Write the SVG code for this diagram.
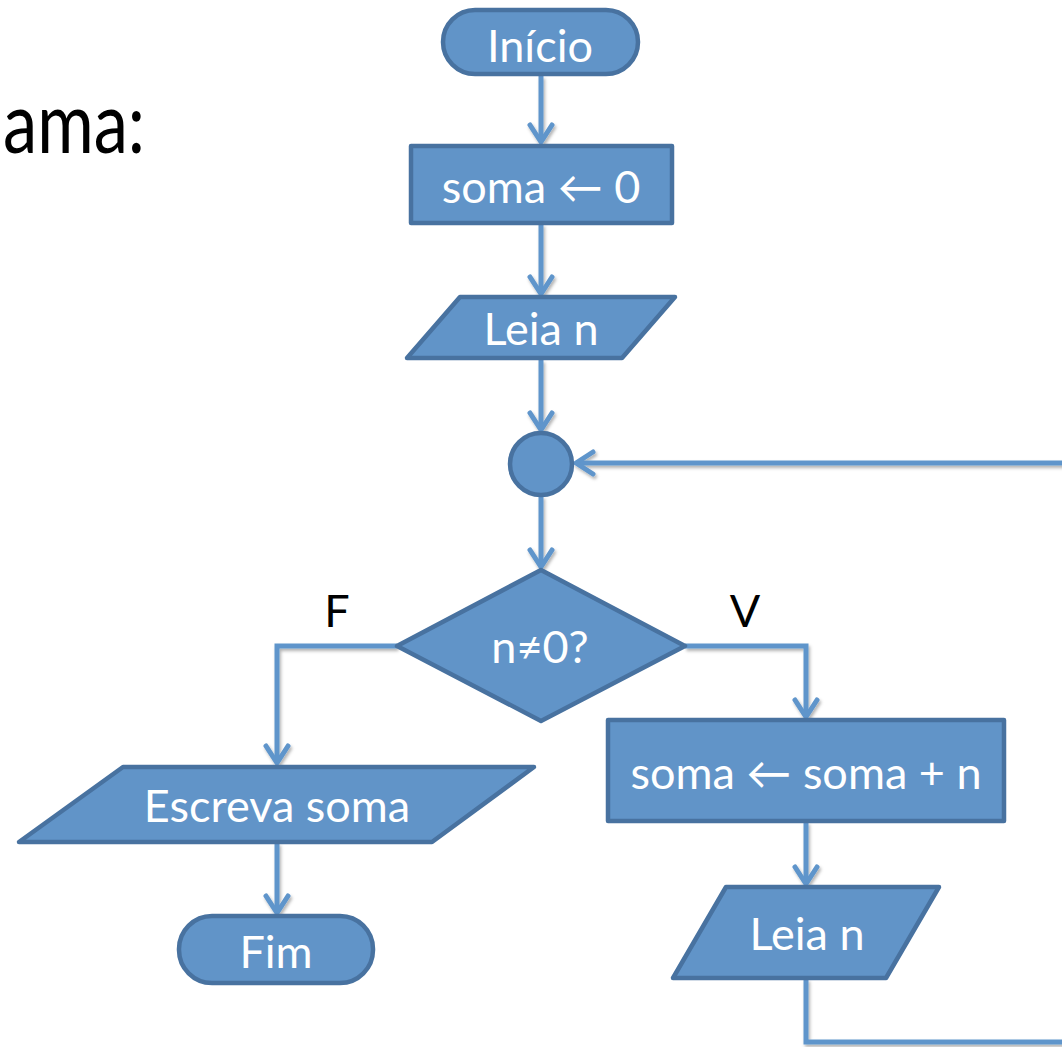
<svg xmlns="http://www.w3.org/2000/svg" width="1062" height="1047" viewBox="0 0 1062 1047">
<style>
.shape{fill:#6194C8;stroke:#4872A0;stroke-width:4.5;stroke-linejoin:round}
.lbl{font-family:Lato,"DejaVu Sans",sans-serif;font-size:45px;fill:#ffffff;text-anchor:middle}
.blk{font-family:Lato,"DejaVu Sans",sans-serif;font-size:45px;fill:#000000;text-anchor:middle}
.conn{fill:none;stroke:#5F95CB;stroke-width:5;stroke-linejoin:miter}
</style>
<defs>
<filter id="sh" x="-10%" y="-10%" width="120%" height="120%">
<feDropShadow dx="1.5" dy="2.5" stdDeviation="1.5" flood-color="#000" flood-opacity="0.3"/>
</filter>
<marker id="ah" markerUnits="userSpaceOnUse" viewBox="-22 -15 26 30" markerWidth="26" markerHeight="30" refX="0" refY="0" orient="auto" overflow="visible">
<path d="M-17,-11 L0,0 L-17,11" fill="none" stroke="#5F95CB" stroke-width="5" stroke-linecap="round" stroke-linejoin="round"/>
</marker>
</defs>
<rect width="1062" height="1047" fill="#ffffff"/>
<text x="3" y="153" font-family="Lato,'DejaVu Sans',sans-serif" font-size="86" fill="#000" textLength="142" lengthAdjust="spacingAndGlyphs">ama:</text>

<g id="connectors" filter="url(#sh)">
<line class="conn" x1="541" y1="76" x2="541" y2="142" marker-end="url(#ah)"/>
<line class="conn" x1="541" y1="224" x2="541" y2="294" marker-end="url(#ah)"/>
<line class="conn" x1="541" y1="360" x2="541" y2="430" marker-end="url(#ah)"/>
<line class="conn" x1="541" y1="496" x2="541" y2="567" marker-end="url(#ah)"/>
<polyline class="conn" points="397,646 277,646 277,763" marker-end="url(#ah)"/>
<polyline class="conn" points="685,646 806,646 806,717" marker-end="url(#ah)"/>
<line class="conn" x1="806" y1="822" x2="806" y2="884" marker-end="url(#ah)"/>
<line class="conn" x1="277" y1="843" x2="277" y2="913" marker-end="url(#ah)"/>
<polyline class="conn" points="806,979 806,1042 1070,1042"/>
<line class="conn" x1="1070" y1="463" x2="576" y2="463" marker-end="url(#ah)"/>
</g>

<g id="inicio">
<rect class="shape" x="443" y="10" width="195" height="64" rx="32"/>
<text class="lbl" x="540" y="62">Início</text>
</g>
<g id="soma0">
<rect class="shape" x="411" y="146" width="261" height="77"/>
<text class="lbl" x="541" y="203">soma ← 0</text>
</g>
<g id="leia1">
<polygon class="shape" points="460,297 675,297 622,358 407,358"/>
<text class="lbl" x="541" y="345">Leia n</text>
</g>
<g id="juncao">
<circle class="shape" cx="541" cy="464" r="31"/>
</g>
<g id="decisao">
<polygon class="shape" points="541,570 685,646 541,721 397,646"/>
<text class="lbl" x="540" y="663">n≠0?</text>
</g>
<g id="labelF"><text class="blk" x="337" y="627">F</text></g>
<g id="labelV"><text class="blk" x="745" y="627">V</text></g>
<g id="somaN">
<rect class="shape" x="608" y="720" width="396" height="101"/>
<text class="lbl" x="806" y="789">soma ← soma + n</text>
</g>
<g id="leia2">
<polygon class="shape" points="726,887 939,887 886,978 673,978"/>
<text class="lbl" x="807" y="950">Leia n</text>
</g>
<g id="escreva">
<polygon class="shape" points="123,767 534,767 432,842 19,842"/>
<text class="lbl" x="277" y="822">Escreva soma</text>
</g>
<g id="fim">
<rect class="shape" x="179" y="916" width="194" height="67" rx="33"/>
<text class="lbl" x="276" y="968">Fim</text>
</g>
</svg>
